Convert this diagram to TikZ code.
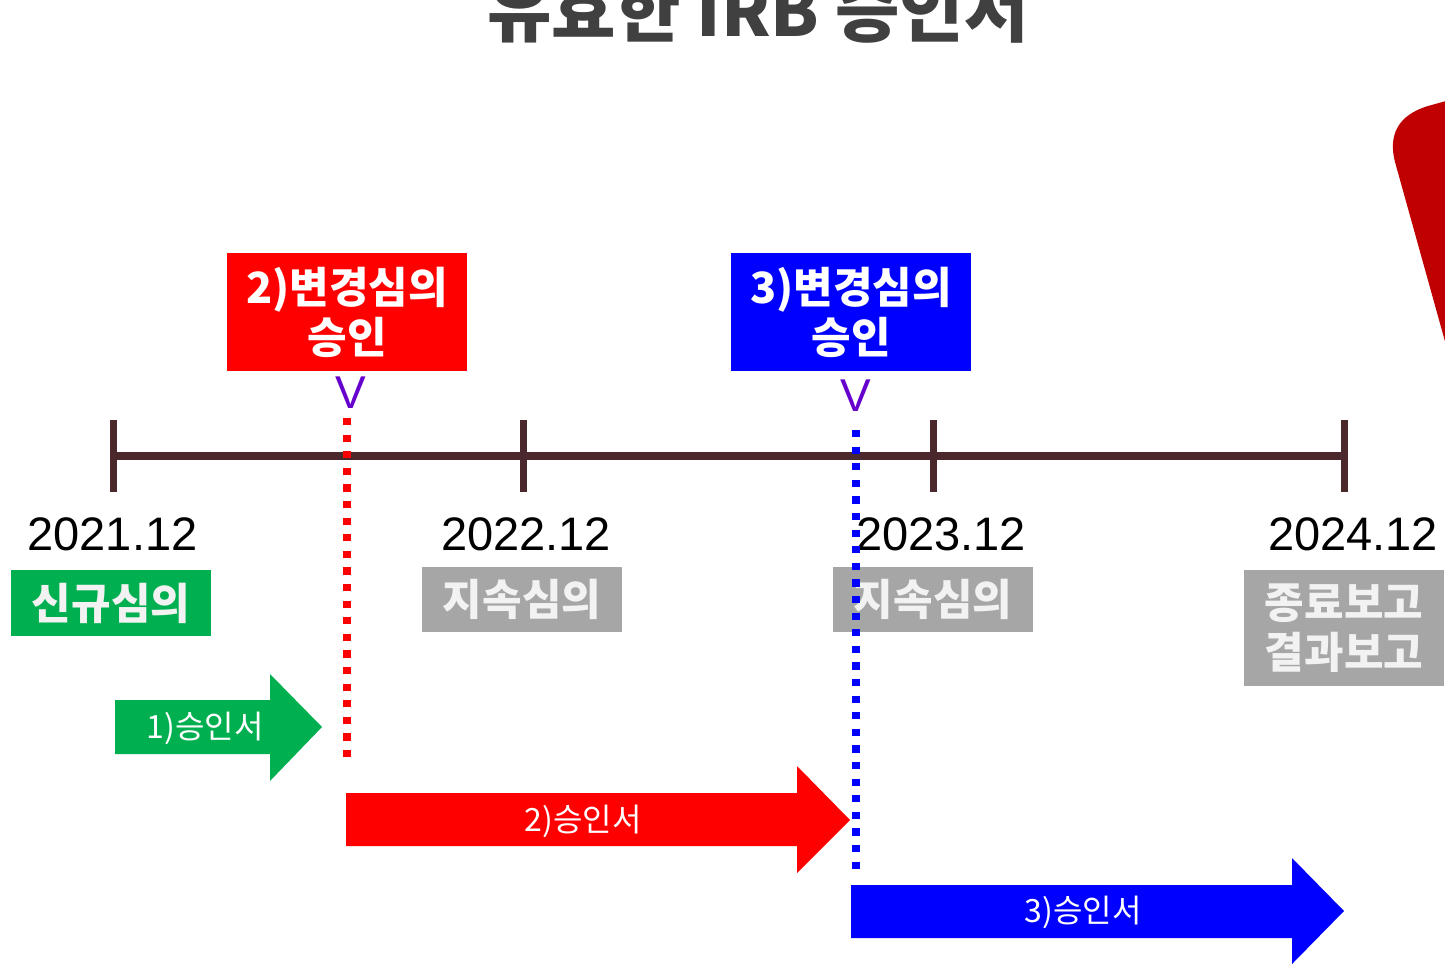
\documentclass[tikz,border=0pt]{standalone}
\usepackage{fontspec}
\setmainfont{Liberation Sans}
\newfontfamily\kr{Noto Sans CJK KR}
\newfontfamily\arial{Liberation Sans}
\definecolor{tl}{RGB}{74,40,44}
\definecolor{grn}{RGB}{0,176,80}
\definecolor{gry}{RGB}{166,166,166}
\definecolor{rd}{RGB}{255,0,0}
\definecolor{bl}{RGB}{0,0,255}
\definecolor{drd}{RGB}{192,0,0}
\definecolor{prp}{RGB}{102,0,204}
\definecolor{ttl}{RGB}{64,64,64}
\definecolor{offw}{RGB}{242,242,242}
\begin{document}
\begin{tikzpicture}[x=0.5pt,y=-0.5pt,
  box/.style={inner sep=0pt, text=offw, align=center, font=\kr\bfseries\fontsize{21.5}{25}\selectfont},
  datelbl/.style={anchor=base, inner sep=0pt, font=\arial\fontsize{23.5}{28}\selectfont},
  vmark/.style={anchor=base, inner sep=0pt, text=prp, font=\arial\fontsize{23}{28}\selectfont},
  arrtxt/.style={inner sep=0pt, text=white, font=\kr\fontsize{16}{19}\selectfont},
  tick/.style={draw=tl, line width=3.5pt},
  dots/.style={line width=3.6pt, dash pattern=on 3.6pt off 4.7pt}]
\useasboundingbox (0,0) rectangle (1445,964);

% title (cut off at the top, as in the reference)
\node[anchor=base, inner sep=0pt, text=ttl, font=\kr\bfseries\fontsize{35}{42}\selectfont] (title) at (758,36) {유효한 IRB 승인서};

% red callout shape, cut off at right
\fill[drd] (1446,101) -- (1428,106) .. controls (1398,115) and (1388,135) .. (1395,162) -- (1446,345) -- cycle;

% timeline
\coordinate (t0) at (113,456);
\coordinate (t1) at (523,456);
\coordinate (t2) at (933,456);
\coordinate (t3) at (1344,456);
\draw[tl, line width=4pt] (t0) -- (t3);
\foreach \c in {t0,t1,t2,t3} \draw[tick] ([yshift=18pt]\c) -- ([yshift=-18pt]\c);

% dates
\node[datelbl] (d1) at (112.5,550) {2021.12};
\node[datelbl] (d2) at (526,550) {2022.12};
\node[datelbl] (d3) at (941,550) {2023.12};
\node[datelbl] (d4) at (1353,550) {2024.12};

% review boxes
\node[box, fill=grn, minimum width=100pt, minimum height=33pt] (new) at (111,603) {신규심의};
\node[box, fill=gry, minimum width=100pt, minimum height=32.5pt] (cont1) at (522,599.5) {지속심의};
\node[box, fill=gry, minimum width=100pt, minimum height=58pt] (fin) at (1344,628) {종료보고\\결과보고};

% change approvals
\node[box, text=white, fill=rd, minimum width=120pt, minimum height=59pt] (chg2) at (347,312) {2)변경심의\\승인};
\node[box, text=white, fill=bl, minimum width=120pt, minimum height=59pt] (chg3) at (851,312) {3)변경심의\\승인};
\node[vmark] (v2) at (351,408) {V};
\node[vmark] (v3) at (856,411) {V};

% dotted markers
\coordinate (r1) at (347,418);
\coordinate (r2) at (347,764);
\coordinate (b1) at (856,430);
\coordinate (b2) at (856,872);
\draw[dots, rd] (r1) -- (r2);
\draw[dots, bl] (b1) -- (b2);

% second continuing review box, with the blue dots running over it
\node[box, fill=gry, minimum width=100pt, minimum height=32.5pt] (cont2) at (933,599.5) {지속심의};
\draw[dots, bl, dash phase=0pt] (b1) -- (b2);

% approval arrows
\fill[grn] (115,700) -- (270,700) -- (270,674) -- (322,727) -- (270,781) -- (270,754) -- (115,754) -- cycle;
\node[arrtxt] (a1) at (205,728) {1)승인서};
\fill[rd] (346,793) -- (797,793) -- (797,766) -- (850,820) -- (797,873) -- (797,846) -- (346,846) -- cycle;
\node[arrtxt] (a2) at (583,821) {2)승인서};
\fill[bl] (851,885) -- (1292,885) -- (1292,858) -- (1344,911) -- (1292,964) -- (1292,938) -- (851,938) -- cycle;
\node[arrtxt] (a3) at (1083,912) {3)승인서};
\end{tikzpicture}
\end{document}
